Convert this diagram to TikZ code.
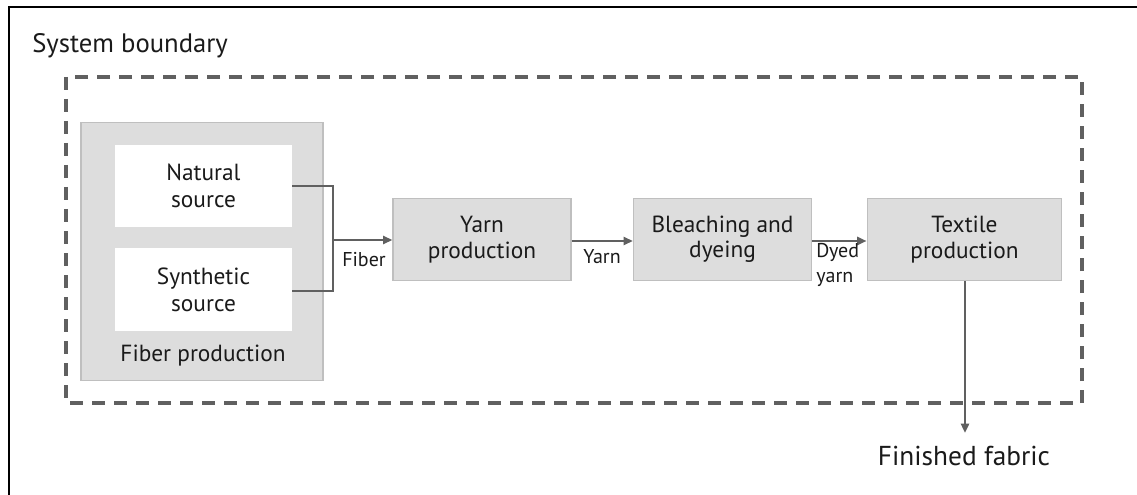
\documentclass[tikz,border=0pt]{standalone}
\usepackage{fontspec}
\setmainfont{PT Sans}
\usetikzlibrary{arrows.meta}
\definecolor{boxfill}{HTML}{DDDDDD}
\definecolor{boxline}{HTML}{BFBFBF}
\definecolor{linegray}{HTML}{606060}
\definecolor{txt}{HTML}{1A1A1A}
\begin{document}
\begin{tikzpicture}[x=0.75pt,y=-0.75pt,
  procbox/.style={draw=boxline,line width=0.9pt,fill=boxfill,minimum width=133.5pt,minimum height=62pt,align=center,font=\fontsize{17.5}{19}\selectfont,text=txt,inner sep=0pt},
  srcbox/.style={fill=white,minimum width=132.75pt,minimum height=62pt,align=center,font=\fontsize{17.5}{20}\selectfont,text=txt,inner sep=0pt},
  flow/.style={draw=linegray,line width=1.8pt,-{Triangle[length=7pt,width=6pt]}},
  conn/.style={draw=linegray,line width=1.8pt},
  lbl/.style={font=\fontsize{15}{17}\selectfont,text=txt,align=left,inner sep=0pt}]
\useasboundingbox (0,0) rectangle (1137,495);
\fill[white] (0,0) rectangle (1137,495);
\draw[black,line width=1.2pt] (9,500) -- (9,7) -- (1140,7);
\node[anchor=west,font=\fontsize{20}{23}\selectfont,text=txt,inner sep=0pt] (sb) at (32,46) {System boundary};
\draw[linegray,line width=3pt,dash pattern=on 10pt off 6.5pt] (66,77) rectangle (1082,403);
% fiber production group
\node[draw=boxline,line width=0.9pt,fill=boxfill,minimum width=181.5pt,minimum height=194pt,inner sep=0pt] (fp) at (202,251.5) {};
\node[font=\fontsize{17.5}{20}\selectfont,text=txt,inner sep=0pt] (fpl) at (203,356) {Fiber production};
\node[srcbox] (nat) at (203.5,186) {Natural\\source};
\node[srcbox] (syn) at (203.5,289.5) {Synthetic\\source};
\node[procbox] (yarn) at (482,239.5) {Yarn\\production};
\node[procbox] (bleach) at (722.5,239.5) {Bleaching and\\dyeing};
\node[procbox,minimum width=146pt] (textile) at (964.5,239.5) {Textile\\production};
\coordinate (j) at (333,240);
\draw[conn] (nat.east) -- (333,186) -- (333,291) -- (syn.east |- 0,291);
\draw[flow] (j) -- (yarn.west |- j);
\node[lbl] (fib) at (364,260) {Fiber};
\draw[flow] (yarn.east |- 0,241) -- (bleach.west |- 0,241);
\node[lbl] (yl) at (602,257) {Yarn};
\draw[flow] (bleach.east |- 0,241) -- (textile.west |- 0,241);
\node[lbl,anchor=north west,font=\fontsize{15}{19}\selectfont] (dy) at (816,243) {Dyed\\yarn};
\coordinate (ff) at (965,433);
\draw[flow] (textile.south -| ff) -- (ff);
\node[font=\fontsize{20.5}{23}\selectfont,text=txt,inner sep=0pt] (ffl) at (964,456) {Finished fabric};
\end{tikzpicture}
\end{document}
